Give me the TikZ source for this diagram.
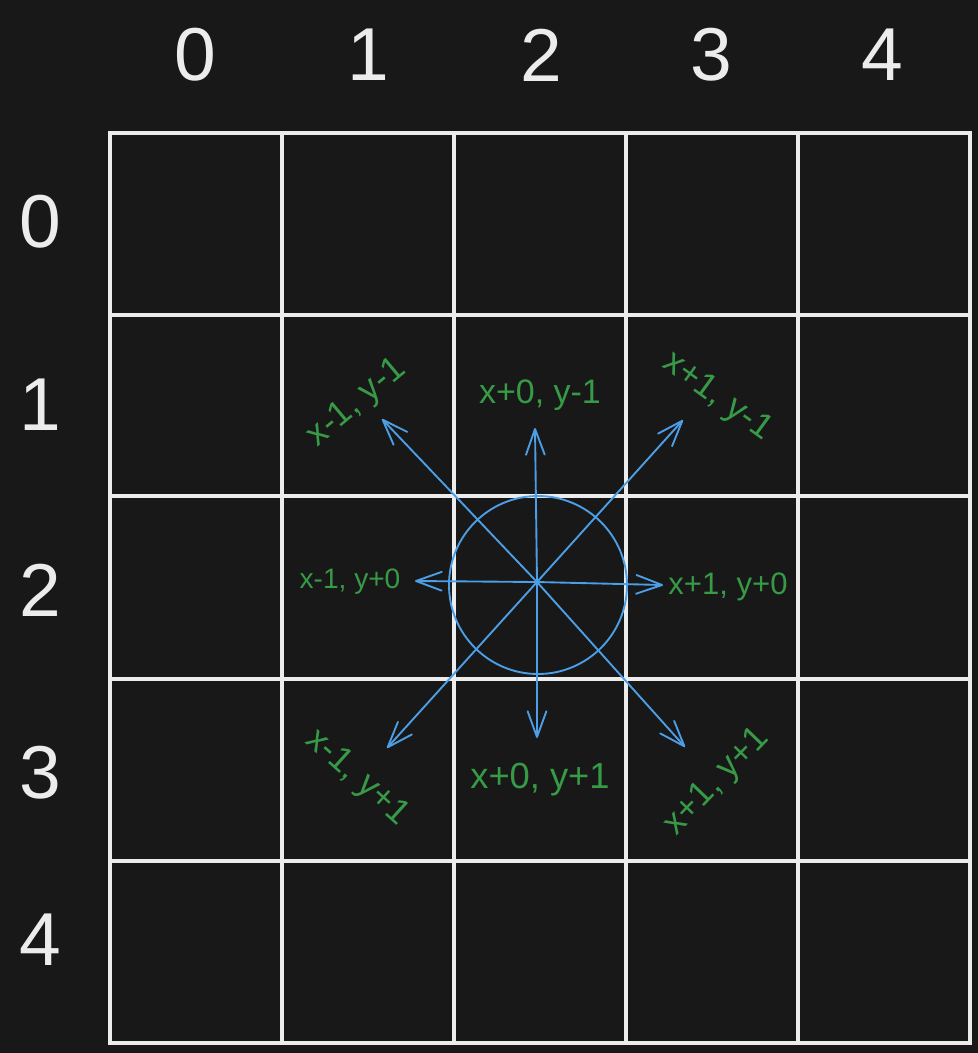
\documentclass[tikz,border=0pt]{standalone}
\usepackage{fontspec}
\setmainfont{Liberation Sans}
\usetikzlibrary{arrows.meta}
\definecolor{bgc}{HTML}{181818}
\definecolor{gridc}{HTML}{ECECEC}
\definecolor{arrc}{HTML}{4C9FE6}
\definecolor{lblc}{HTML}{379A47}
\begin{document}
\begin{tikzpicture}[x=0.03cm, y=-0.03cm,
    gridline/.style={line width=3.3pt, color=gridc, line cap=round},
    idx/.style={text=gridc, font=\fontsize{64}{70}\selectfont},
    move/.style={line width=1.6pt, color=arrc, line cap=round,
      -{Straight Barb[length=22pt,width=16pt,round]}},
    lbl/.style={text=lblc, font=\fontsize{30}{34}\selectfont, inner sep=0pt}]
  \fill[bgc] (0,0) rectangle (978,1053);
  % grid
  \draw[gridline] (110,133) rectangle (970,1043);
  \draw[gridline] (282,133) -- (282,1043);
  \draw[gridline] (454,133) -- (454,1043);
  \draw[gridline] (626,133) -- (626,1043);
  \draw[gridline] (798,133) -- (798,1043);
  \draw[gridline] (110,315) -- (970,315);
  \draw[gridline] (110,496) -- (970,496);
  \draw[gridline] (110,679) -- (970,679);
  \draw[gridline] (110,861) -- (970,861);
  % column and row numbers
  \node[idx] (col0) at (195,55) {0};
  \node[idx] (col1) at (368,55) {1};
  \node[idx] (col2) at (541,55) {2};
  \node[idx] (col3) at (711,55) {3};
  \node[idx] (col4) at (882,55) {4};
  \node[idx] (row0) at (40,222) {0};
  \node[idx] (row1) at (40,405) {1};
  \node[idx] (row2) at (40,590) {2};
  \node[idx] (row3) at (40,773) {3};
  \node[idx] (row4) at (40,940) {4};
  % neighbours
  \coordinate (ctr) at (537,582);
  \node[draw=arrc, line width=1.6pt, circle, minimum size=5.34cm, inner sep=0pt] (cell) at (538,585) {};
  \coordinate (nw) at (382,419);
  \coordinate (n) at (535,428);
  \coordinate (ne) at (683,420);
  \coordinate (w) at (415,581);
  \coordinate (e) at (663,585);
  \coordinate (sw) at (387,748);
  \coordinate (s) at (537,738);
  \coordinate (se) at (685,747);
  \draw[move] (ctr) -- (nw);
  \draw[move] (ctr) -- (n);
  \draw[move] (ctr) -- (ne);
  \draw[move] (ctr) -- (w);
  \draw[move] (ctr) -- (e);
  \draw[move] (ctr) -- (sw);
  \draw[move] (ctr) -- (s);
  \draw[move] (ctr) -- (se);
  \node[lbl, rotate=40] (nwlbl) at (357,403) {x-1, y-1};
  \node[lbl, font=\fontsize{29}{34}\selectfont] (nlbl) at (540,395) {x+0, y-1};
  \node[lbl, rotate=-36] (nelbl) at (717,397) {x+1, y-1};
  \node[lbl, font=\fontsize{24}{28}\selectfont] (wlbl) at (350,582) {x-1, y+0};
  \node[lbl, font=\fontsize{26.5}{30}\selectfont] (elbl) at (728,587) {x+1, y+0};
  \node[lbl, rotate=-42] (swlbl) at (357,778) {x-1, y+1};
  \node[lbl, font=\fontsize{31}{34}\selectfont] (slbl) at (540,780) {x+0, y+1};
  \node[lbl, rotate=46] (selbl) at (717,782) {x+1, y+1};
\end{tikzpicture}
\end{document}
